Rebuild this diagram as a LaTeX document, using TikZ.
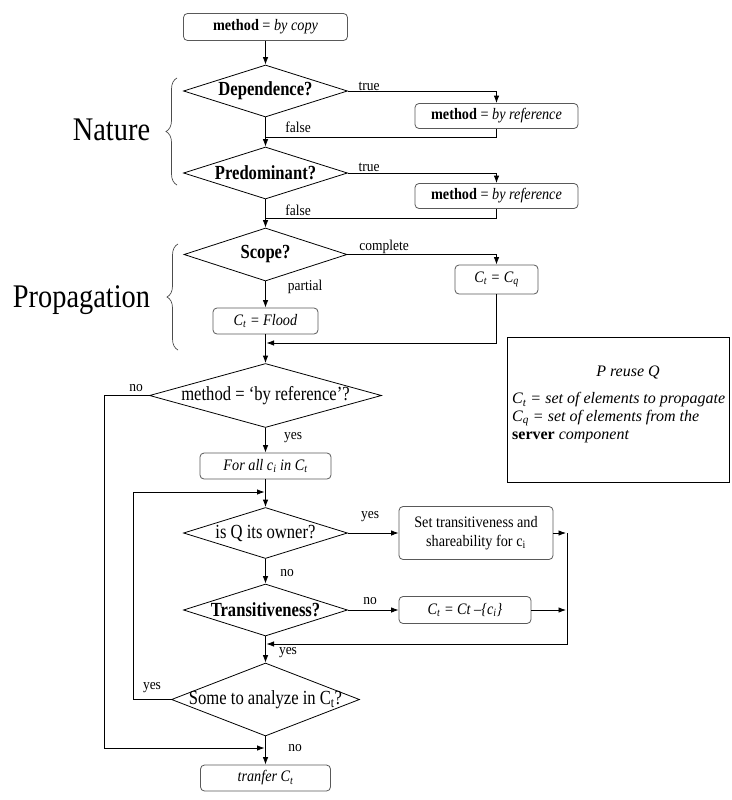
\documentclass[tikz,border=0pt]{standalone}
\usepackage{fontspec}
\setmainfont{Liberation Serif}
\newfontfamily\diafont[FakeStretch=0.83]{Liberation Serif}
\newfontfamily\boxfont[FakeStretch=0.89]{Liberation Serif}
\newfontfamily\lblfont[FakeStretch=0.9]{Liberation Serif}
\newfontfamily\bigfont[FakeStretch=0.86]{Liberation Serif}
\usetikzlibrary{shapes.geometric,arrows.meta,decorations.pathreplacing}

\newcommand{\diatext}{\diafont\fontsize{20}{24}\selectfont}
\newcommand{\boxtext}{\boxfont\fontsize{16}{19}\selectfont}
\newcommand{\lbltext}{\lblfont\fontsize{15}{18}\selectfont}
\newcommand{\bigtext}{\bigfont\fontsize{33}{38}\selectfont}
\newcommand{\legtext}{\fontsize{16}{19}\selectfont}

\begin{document}
\begin{tikzpicture}[x=1pt,y=-1pt,
  box/.style={draw=black!65, rounded corners=4pt, line width=0.8pt, fill=white,
    inner sep=0pt, font=\boxtext},
  dia/.style={diamond, draw, line width=0.8pt, inner sep=0pt, font=\diatext},
  lbl/.style={inner sep=0pt, font=\lbltext},
  ln/.style={line width=0.8pt},
  arr/.style={line width=0.8pt, -{Latex[length=7.5pt,width=5.5pt]}},
  brc/.style={draw=black!70, line width=0.7pt, decorate,
    decoration={brace, amplitude=11pt}},
  bigtxt/.style={inner sep=0pt, font=\bigtext},
  leg/.style={inner sep=0pt, font=\legtext}]
\useasboundingbox (0,0) rectangle (731,800);

% main column
\node[box, minimum width=164pt, minimum height=27pt] (top) at (265.5,27) {\textbf{method} = \textit{by copy}};
\node[dia, minimum width=164pt, minimum height=52pt] (dep) at (265.5,91) {\makebox[0pt]{\textbf{Dependence?}}};
\node[box, minimum width=163pt, minimum height=25pt] (ref1) at (496.5,116) {\textbf{method} = \textit{by reference}};
\node[dia, minimum width=164pt, minimum height=52pt] (pred) at (265.5,173) {\makebox[0pt]{\textbf{Predominant?}}};
\node[box, minimum width=163pt, minimum height=25pt] (ref2) at (496.5,196) {\textbf{method} = \textit{by reference}};
\node[dia, minimum width=163pt, minimum height=53pt] (scope) at (265.5,254.5) {\makebox[0pt]{\textbf{Scope?}}};
\node[box, minimum width=83pt, minimum height=29pt] (cq) at (496.5,279.5) {\textit{C\textsubscript{t} = C\textsubscript{q}}};
\node[box, minimum width=105pt, minimum height=26pt] (flood) at (265.5,321) {\textit{C\textsubscript{t} = Flood}};
\node[dia, minimum width=232pt, minimum height=64pt] (meth) at (265.5,395.5) {\makebox[0pt]{method = ‘by reference’?}};
\node[box, minimum width=131pt, minimum height=26pt] (forall) at (265.5,466) {\textit{For all c\textsubscript{i} in C\textsubscript{t}}};
\node[dia, minimum width=164pt, minimum height=51pt] (owner) at (265.5,533) {\makebox[0pt]{is Q its owner?}};
\node[box, minimum width=154pt, minimum height=53pt, align=center] (setc) at (476,533) {Set transitiveness and\\shareability for c\textsubscript{i}};
\node[dia, minimum width=164pt, minimum height=52pt] (trans) at (265.5,610) {\makebox[0pt]{\textbf{Transitiveness?}}};
\node[box, minimum width=132pt, minimum height=27pt] (rem) at (465,610) {\textit{C\textsubscript{t} = Ct –\{c\textsubscript{i}\}}};
\node[dia, minimum width=188pt, minimum height=73pt] (some) at (265.5,699.5) {\makebox[0pt]{Some to analyze in C\textsubscript{t}?}};
\node[box, minimum width=130pt, minimum height=26pt] (tranfer) at (265.5,778) {\textit{tranfer C\textsubscript{t}}};

% legend
\node[draw, line width=0.8pt, minimum width=222pt, minimum height=145pt, inner sep=0pt, anchor=north west] (legend) at (507,337) {};
\node[leg] (lg1) at (628,372) {\textit{P reuse Q}};
\node[leg, anchor=west] (lg2) at (512,400) {\textit{C\textsubscript{t} = set of elements to propagate}};
\node[leg, anchor=west] (lg3) at (512,418) {\textit{C\textsubscript{q} = set of elements from the}};
\node[leg, anchor=west] (lg4) at (512,437) {\textbf{server} \textit{component}};

% group captions
\node[bigtxt, anchor=base] (nat) at (111.5,140) {Nature};
\node[bigtxt, anchor=base] (prop) at (81.5,307) {Propagation};
\draw[brc] (177,185) -- (177,78);
\draw[brc] (178,350) -- (178,244);

% junction points
\coordinate (j1) at (265.5,137);
\coordinate (j2) at (265.5,218);
\coordinate (j3) at (266.5,343);
\coordinate (c1) at (104,748);
\coordinate (j4) at (264.5,748);
\coordinate (c2) at (133,492);
\coordinate (j5) at (264.5,492);
\coordinate (r1) at (566,533);
\coordinate (r0) at (567,533);
\coordinate (j6) at (266.5,644);
\coordinate (r2) at (566,610);

% connectors
\draw[arr] (top) -- (dep);
\draw[arr] (dep.east) -| (ref1.north);
\draw[arr] (dep.south) -- (pred.north);
\draw[ln] (ref1.south) |- (j1);
\draw[arr] (pred.east) -| (ref2.north);
\draw[arr] (pred.south) -- (scope.north);
\draw[ln] (ref2.south) |- (j2);
\draw[arr] (scope.east) -| (cq.north);
\draw[arr] (scope.south) -- (flood.north);
\draw[arr] (flood.south) -- (meth.north);
\draw[arr] (cq.south) |- (j3);
\draw[arr] (meth.west) -| (c1) -- (j4);
\draw[arr] (meth.south) -- (forall.north);
\draw[arr] (forall.south) -- (owner.north);
\draw[arr] (some.west) -| (c2) -- (j5);
\draw[arr] (owner.east) -- (setc.west);
\draw[arr] (setc.east) -- (r1);
\draw[arr] (r0) |- (j6);
\draw[arr] (owner.south) -- (trans.north);
\draw[arr] (trans.east) -- (rem.west);
\draw[arr] (rem.east) -- (r2);
\draw[arr] (trans.south) -- (some.north);
\draw[arr] (some.south) -- (tranfer.north);

% connector labels
\node[lbl] (t1) at (369,86) {true};
\node[lbl] (f1) at (298,127) {false};
\node[lbl] (t2) at (369,167) {true};
\node[lbl] (f2) at (298,210) {false};
\node[lbl] (cp) at (384,247) {complete};
\node[lbl] (pt) at (305,287) {partial};
\node[lbl] (n1) at (136,388) {no};
\node[lbl] (y1) at (293,438) {yes};
\node[lbl] (y2) at (370,517) {yes};
\node[lbl] (n2) at (287,573) {no};
\node[lbl] (n3) at (370,601) {no};
\node[lbl] (y3) at (288,653) {yes};
\node[lbl] (y4) at (152,688) {yes};
\node[lbl] (n4) at (295,748) {no};
\end{tikzpicture}
\end{document}
